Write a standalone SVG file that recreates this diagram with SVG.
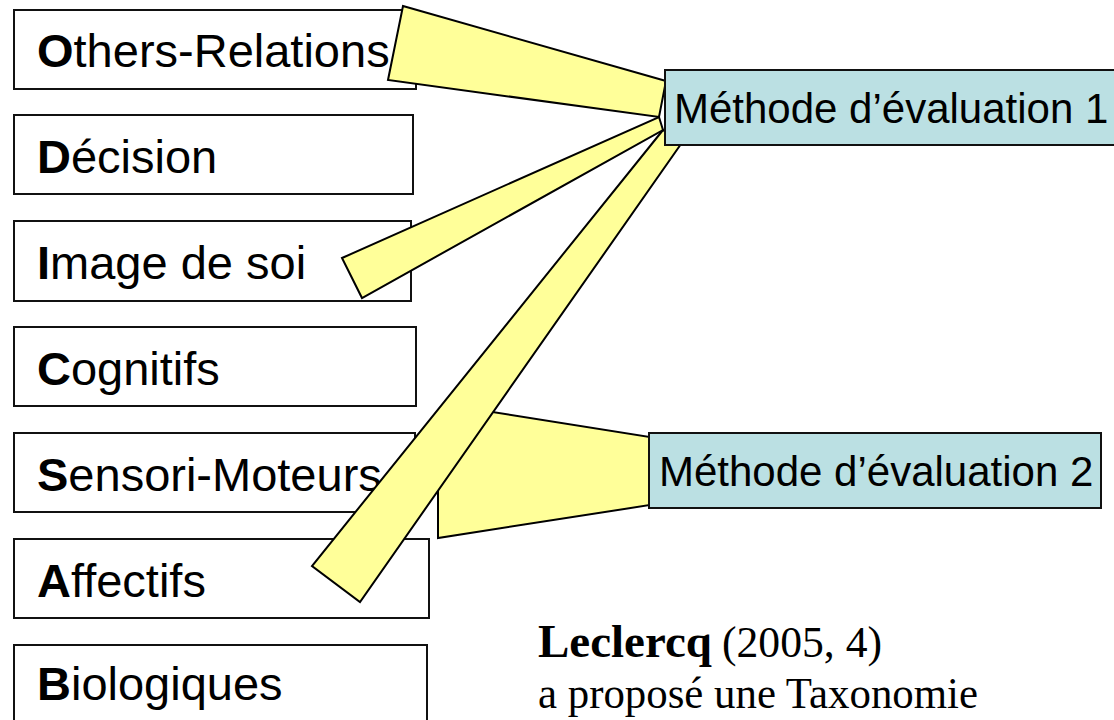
<svg xmlns="http://www.w3.org/2000/svg" width="1114" height="720" viewBox="0 0 1114 720">
<style>
.box{fill:#fff;stroke:#111;stroke-width:2}
.meth{fill:#BBE0E3;stroke:#111;stroke-width:2}
.call{fill:#FFFF99;stroke:#000;stroke-width:2;stroke-linejoin:miter}
.lbl{font-family:"Liberation Sans",Arial,sans-serif;font-size:47px;fill:#000}
.mlbl{font-family:"Liberation Sans",Arial,sans-serif;font-size:42px;fill:#000}
.b{font-weight:bold}
.ser{font-family:"Liberation Serif","Times New Roman",serif;fill:#000}
</style>
<rect width="1114" height="720" fill="#fff"/>
<g id="n-others"><rect class="box" x="14" y="10" width="402" height="79"/><text class="lbl" x="37" y="67"><tspan class="b">O</tspan>thers-Relations</text></g>
<g id="n-decision"><rect class="box" x="14" y="115" width="399" height="79"/><text class="lbl" x="37" y="173"><tspan class="b">D</tspan>écision</text></g>
<g id="n-image"><rect class="box" x="14" y="221" width="397" height="80"/><text class="lbl" x="37" y="279"><tspan class="b">I</tspan>mage de soi</text></g>
<g id="n-cognitifs"><rect class="box" x="14" y="327" width="402" height="79"/><text class="lbl" x="37" y="385"><tspan class="b">C</tspan>ognitifs</text></g>
<g id="n-sensori"><rect class="box" x="14" y="433" width="401" height="79"/><text class="lbl" x="37" y="491"><tspan class="b">S</tspan>ensori-Moteurs</text></g>
<g id="n-affectifs"><rect class="box" x="14" y="539" width="415" height="79"/><text class="lbl" x="37" y="597"><tspan class="b">A</tspan>ffectifs</text></g>
<g id="n-biologiques"><rect class="box" x="14" y="645" width="413" height="82"/><text class="lbl" x="37" y="700"><tspan class="b">B</tspan>iologiques</text></g>
<g id="connectors">
<polygon class="call" points="403,6 666,81 659,117 388,80"/>
<polygon class="call" points="342,258 659,117 663,130 362,298"/>
<polygon class="call" points="438,538 438,460 480,410 650,437 650,505"/>
<polygon class="call" points="663,130 681,144 360,602 312,566"/>
</g>
<g id="n-methode1"><rect class="meth" x="665" y="70" width="460" height="75"/><text class="mlbl" x="674" y="123">Méthode d’évaluation 1</text></g>
<g id="n-methode2"><rect class="meth" x="649" y="433" width="452" height="75"/><text class="mlbl" x="659" y="486">Méthode d’évaluation 2</text></g>
<g id="n-leclercq">
<text class="ser b" x="538" y="657" font-size="46" textLength="174" lengthAdjust="spacingAndGlyphs">Leclercq</text>
<text class="ser" x="722" y="657" font-size="44" textLength="160" lengthAdjust="spacingAndGlyphs">(2005, 4)</text>
<text class="ser" x="538" y="708" font-size="44" textLength="440" lengthAdjust="spacingAndGlyphs">a proposé une Taxonomie</text>
</g>
</svg>
